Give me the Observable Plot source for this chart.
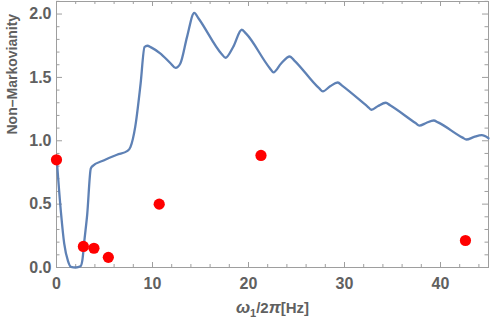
<!DOCTYPE html>
<html><head><meta charset="utf-8">
<script src="https://cdn.jsdelivr.net/npm/d3@7"></script>
<script src="https://cdn.jsdelivr.net/npm/@observablehq/plot@0.6"></script>
<style>body{margin:0;background:#fff}</style>
</head><body><div id="chart"></div>
<script>
// Theory curve
const curveX = [0, 0.47, 0.8, 1.2, 1.5, 2.0, 2.5, 2.7, 2.9, 3.2, 3.57, 3.75, 4.9, 6.3, 7.4, 7.7, 8.2, 8.76, 9.17, 9.45, 9.9, 10.8, 11.9, 12.4, 12.9, 13.6, 14.35, 14.8, 17.2, 17.6, 18.4, 19.3, 19.75, 22.2, 22.6, 23.4, 24.3, 24.75, 27.35, 27.75, 28.5, 29.3, 29.75, 32.4, 32.8, 33.5, 34.3, 34.75, 37.4, 37.8, 38.5, 39.3, 39.75, 42.3, 42.7, 43.5, 44.3, 45];
const curveY = [0.88, 0.43, 0.19, 0.05, 0.005, 0, 0.01, 0.06, 0.21, 0.42, 0.78, 0.80, 0.845, 0.89, 0.92, 0.95, 1.11, 1.45, 1.74, 1.75, 1.735, 1.69, 1.61, 1.575, 1.61, 1.82, 2.01, 1.965, 1.685, 1.655, 1.74, 1.876, 1.845, 1.575, 1.54, 1.61, 1.665, 1.635, 1.415, 1.39, 1.43, 1.46, 1.435, 1.27, 1.245, 1.275, 1.30, 1.28, 1.14, 1.12, 1.14, 1.16, 1.145, 1.025, 1.01, 1.03, 1.044, 1.02];
// Measured points
const pointX = [0, 2.8, 3.9, 5.4, 10.7, 21.3, 42.6];
const pointY = [0.85, 0.166, 0.152, 0.08, 0.50, 0.884, 0.213];
// Ticks
const xMajor = [0, 10, 20, 30, 40];
const xMinor = [2, 4, 6, 8, 12, 14, 16, 18, 22, 24, 26, 28, 32, 34, 36, 38, 42, 44];
const yMajor = [0, 0.5, 1, 1.5, 2];
const yMinor = [0.1, 0.2, 0.3, 0.4, 0.6, 0.7, 0.8, 0.9, 1.1, 1.2, 1.3, 1.4, 1.6, 1.7, 1.8, 1.9, 2.1];
const xLabel = "ω1/2π[Hz]";
const yLabel = "Non–Markovianity";

const curve = curveX.map((x, i) => ({x, y: curveY[i]}));
const points = pointX.map((x, i) => ({x, y: pointY[i]}));

const W = 491, H = 323, mL = 56, mR = 3, mT = 1, mB = 56;
const iW = W - mL - mR, iH = H - mT - mB;
const gray = "#9e9e9e", txt = "#606060";
const font = "Liberation Sans, Arial, sans-serif";

const chart = Plot.plot({
  width: W, height: H,
  marginLeft: mL, marginRight: mR, marginTop: mT, marginBottom: mB,
  style: {fontFamily: font, background: "#fff"},
  x: {domain: [0, 45], axis: null},
  y: {domain: [0, 2.099], axis: null},
  marks: [
    Plot.tickX(xMajor, {x: d => d, stroke: gray, insetTop: iH - 5}),
    Plot.tickX(xMinor, {x: d => d, stroke: gray, insetTop: iH - 3}),
    Plot.tickX(xMajor, {x: d => d, stroke: gray, insetBottom: iH - 5}),
    Plot.tickX(xMinor, {x: d => d, stroke: gray, insetBottom: iH - 3}),
    Plot.tickY(yMajor, {y: d => d, stroke: gray, insetRight: iW - 6}),
    Plot.tickY(yMinor, {y: d => d, stroke: gray, insetRight: iW - 3.5}),
    Plot.tickY(yMajor, {y: d => d, stroke: gray, insetLeft: iW - 6}),
    Plot.tickY(yMinor, {y: d => d, stroke: gray, insetLeft: iW - 3.5}),
    Plot.frame({stroke: gray}),
    Plot.axisX({ticks: xMajor, tickSize: 0, tickPadding: 10, fontSize: 16, fontWeight: "bold", color: txt, label: null, tickFormat: d => d}),
    Plot.axisY({ticks: yMajor, tickSize: 0, tickPadding: 5, fontSize: 16, fontWeight: "bold", color: txt, label: null, tickFormat: d3.format(".1f")}),
    Plot.line(curve, {x: "x", y: "y", stroke: "#5E81B5", strokeWidth: 2.3, curve: "monotone-x"}),
    Plot.dot(points, {x: "x", y: "y", r: 5.6, fill: "#FF0000"}),
    Plot.text([xLabel], {frameAnchor: "bottom", dy: 41, lineAnchor: "middle", fontSize: 15, fontWeight: "bold", fill: txt}),
    Plot.text([yLabel], {frameAnchor: "left", dx: -44, rotate: -90, fontSize: 14, fontWeight: "bold", fill: txt})
  ]
});
document.getElementById("chart").appendChild(chart);

// rich-text the x label: italic ω, subscript 1, italic π
d3.select(chart).selectAll("text").each(function() {
  if (this.textContent === xLabel) {
    const t = d3.select(this);
    t.text(null);
    t.append("tspan").attr("font-style", "italic").attr("font-size", "17px").text("ω");
    t.append("tspan").attr("font-size", "11px").attr("dy", "4").text("1");
    t.append("tspan").attr("dy", "-4").text("/2");
    t.append("tspan").attr("font-style", "italic").attr("font-size", "17px").text("π");
    t.append("tspan").text("[Hz]");
  }
});
</script>
</body></html>
